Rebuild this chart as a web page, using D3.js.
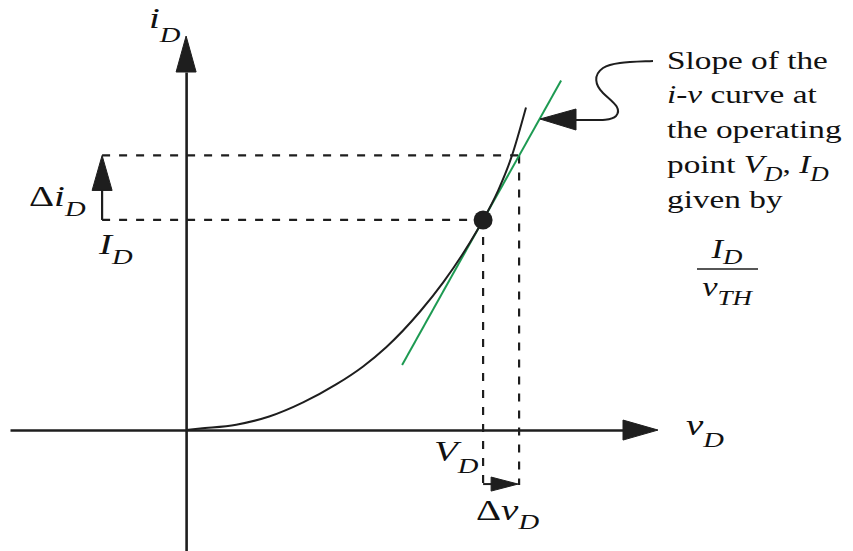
<!DOCTYPE html>
<html>
<head>
<meta charset="utf-8">
<script src="https://cdn.jsdelivr.net/npm/d3@7"></script>
<style>
  html, body { margin: 0; padding: 0; background: #fff; }
  svg { display: block; }
</style>
</head>
<body>
<svg id="chart" width="853" height="551"></svg>
<script>
// Diode i-v characteristic with the small-signal tangent at the operating point
const curveV = [0, 0.47, 1.67, 2.77, 3.9, 5.0, 5.9, 6.67, 7.8, 8.57, 9.23, 9.7, 9.9, 10.4, 10.83, 11.33];
const curveI = [0, 0.05, 0.18, 0.45, 0.92, 1.52, 2.12, 2.76, 3.95, 4.92, 5.88, 6.65, 7.0, 7.98, 9.05, 10.75];
const tangentV = [7.2, 12.5];
const tangentI = [2.17, 11.65];
const VD = 9.9, ID = 7.0;     // operating point
const dV = 1.2, dI = 2.15;    // small-signal increments
const guideV = -2.8;          // where the left guides / Δi arrow sit

const INK = "#1e1e1e";
const GREEN = "#1d9a52";
const SERIF = "'Liberation Serif', 'Times New Roman', serif";

const svg = d3.select("#chart");

const x = d3.scaleLinear().domain([-5.87, 15.73]).range([10, 658]);
const y = d3.scaleLinear().domain([-4.03, 13.13]).range([551, 36]);

// Axes (no ticks), arrowheads added separately
const xAxisEnd = x.invert(623), yAxisEnd = y.invert(72);
svg.append("g")
  .attr("transform", `translate(0,${y(0)})`)
  .call(d3.axisBottom(d3.scaleLinear().domain([-5.87, xAxisEnd]).range([10, 623]))
        .tickValues([]).tickSizeOuter(0))
  .call(g => g.select(".domain").attr("stroke", INK).attr("stroke-width", 2.6));
svg.append("g")
  .attr("transform", `translate(${x(0)},0)`)
  .call(d3.axisLeft(d3.scaleLinear().domain([-4.03, yAxisEnd]).range([551, 72]))
        .tickValues([]).tickSizeOuter(0))
  .call(g => g.select(".domain").attr("stroke", INK).attr("stroke-width", 2.6));

function tri(points) {
  svg.append("path").attr("d", "M" + points.map(p => p.join(",")).join("L") + "Z")
    .attr("fill", INK).attr("stroke", INK).attr("stroke-width", 1).attr("stroke-linejoin", "miter");
}
// y-axis arrow
tri([[x(0), y(13.13)], [x(0) - 10, 72], [x(0) + 10, 72]]);
// x-axis arrow
tri([[x(15.73), y(0)], [623, y(0) - 10], [623, y(0) + 10]]);

// Dashed guide lines
const dash = "8,9";
function dashed(v1, i1, v2, i2) {
  svg.append("line")
    .attr("x1", x(v1)).attr("y1", y(i1)).attr("x2", x(v2)).attr("y2", y(i2))
    .attr("stroke", INK).attr("stroke-width", 2.2).attr("stroke-dasharray", dash);
}
dashed(guideV, ID, VD, ID);
dashed(guideV, ID + dI, VD + dV, ID + dI);
dashed(VD, ID, VD, -1.83);
dashed(VD + dV, ID + dI, VD + dV, -1.83);

// Tangent line
svg.append("path")
  .datum(tangentV.map((v, k) => [v, tangentI[k]]))
  .attr("d", d3.line().x(d => x(d[0])).y(d => y(d[1])))
  .attr("fill", "none").attr("stroke", GREEN).attr("stroke-width", 2);

// i-v curve
svg.append("path")
  .datum(curveV.map((v, k) => [v, curveI[k]]))
  .attr("d", d3.line().x(d => x(d[0])).y(d => y(d[1])).curve(d3.curveMonotoneX))
  .attr("fill", "none").attr("stroke", INK).attr("stroke-width", 2);

// Operating point
svg.append("circle").attr("cx", x(VD)).attr("cy", y(ID)).attr("r", 9.5).attr("fill", INK);

// Δi arrow
svg.append("line").attr("x1", x(guideV)).attr("x2", x(guideV))
  .attr("y1", y(ID)).attr("y2", y(ID + dI) + 33)
  .attr("stroke", INK).attr("stroke-width", 2.2);
tri([[x(guideV), y(ID + dI)], [x(guideV) - 10, y(ID + dI) + 35], [x(guideV) + 10, y(ID + dI) + 35]]);

// Δv arrow
const yArr = y(-1.8);
svg.append("line").attr("x1", x(VD)).attr("x2", x(VD + dV) - 26)
  .attr("y1", yArr).attr("y2", yArr).attr("stroke", INK).attr("stroke-width", 2);
tri([[x(VD + dV) - 1, yArr], [x(VD + dV) - 28, yArr - 7], [x(VD + dV) - 28, yArr + 7]]);

// Call-out leader with arrowhead
svg.append("path")
  .attr("d", "M653,61 C630,62 612,62 603,68 C593,75 595,85 603,93 C611,101 623,108 616,116 C611,121 598,120 576,120")
  .attr("fill", "none").attr("stroke", INK).attr("stroke-width", 2);
tri([[540, 119], [576, 109], [576, 130]]);

// Text helper: parts = [{t, it, sub}]
function label(px, py, parts, opts = {}) {
  const size = opts.size || 30;
  const subSize = opts.subSize || Math.round(size * 0.75);
  const subDy = opts.subDy || Math.round(size * 0.35);
  const sx = opts.sx || 1.3;
  const t = svg.append("text")
    .attr("transform", `translate(${px},${py}) scale(${sx},1)`)
    .attr("text-anchor", opts.anchor || "start")
    .style("font-family", SERIF)
    .style("font-size", size + "px")
    .attr("fill", "#111");
  let shifted = false;
  parts.forEach(p => {
    const ts = t.append("tspan").text(p.t)
      .style("font-style", p.it ? "italic" : "normal");
    if (p.sub) {
      ts.style("font-size", subSize + "px");
      if (!shifted) { ts.attr("dy", subDy); shifted = true; }
    } else if (shifted) {
      ts.attr("dy", -subDy); shifted = false;
    }
  });
  return t;
}

// Axis and guide labels
label(149, 28, [{t: "i", it: true}, {t: "D", it: true, sub: true}], {subDy: 14, subSize: 22});
label(686, 435, [{t: "v", it: true}, {t: "D", it: true, sub: true}], {subDy: 12, subSize: 22});
label(434, 461, [{t: "V", it: true}, {t: "D", it: true, sub: true}], {subDy: 12, subSize: 22});
label(476, 520, [{t: "Δ"}, {t: "v", it: true}, {t: "D", it: true, sub: true}], {subDy: 9, subSize: 22});
label(29, 206, [{t: "Δ"}, {t: "i", it: true}, {t: "D", it: true, sub: true}], {subDy: 10, subSize: 22});
label(99, 254, [{t: "I", it: true}, {t: "D", it: true, sub: true}], {subDy: 10, subSize: 22});

// Call-out text
const cs = {size: 26, subSize: 20, subDy: 8, sx: 1.28};
label(667, 69, [{t: "Slope of the"}], cs);
label(667, 103, [{t: "i", it: true}, {t: "-"}, {t: "v", it: true}, {t: " curve at"}], cs);
label(667, 138, [{t: "the operating"}], cs);
label(667, 173, [{t: "point "}, {t: "V", it: true}, {t: "D", it: true, sub: true},
                 {t: ", "}, {t: "I", it: true}, {t: "D", it: true, sub: true}], cs);
label(667, 208, [{t: "given by"}], cs);
label(727, 258, [{t: "I", it: true}, {t: "D", it: true, sub: true}], {size: 27, subSize: 21, subDy: 6, sx: 1.28, anchor: "middle"});
svg.append("line").attr("x1", 697).attr("x2", 758).attr("y1", 269).attr("y2", 269)
  .attr("stroke", INK).attr("stroke-width", 1.6);
label(727, 296, [{t: "v", it: true}, {t: "TH", it: true, sub: true}], {size: 27, subSize: 21, subDy: 9, sx: 1.28, anchor: "middle"});
</script>
</body>
</html>
